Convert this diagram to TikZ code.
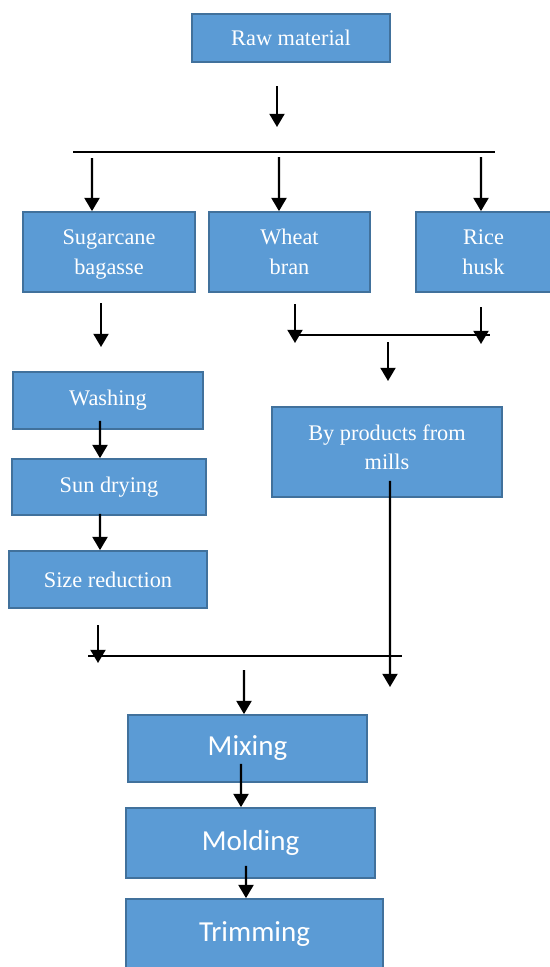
\documentclass[tikz,border=0pt]{standalone}
\usepackage{fontspec}
\setmainfont{Liberation Serif}
\newfontfamily\boxsans{Carlito}
\usetikzlibrary{arrows.meta,positioning}
\definecolor{boxfill}{HTML}{5B9BD5}
\definecolor{boxline}{HTML}{41719C}

\begin{document}
\begin{tikzpicture}[x=0.02cm, y=-0.02cm, flow/.style={-{Triangle[width=8.5pt,length=7.5pt]}, line width=1.25pt}, split/.style={line width=0.75pt}, main node/.style={rectangle,draw=boxline,fill=boxfill,line width=1pt,text=white,align=center,inner sep=0pt,font=\rmfamily\fontsize{12.7}{17}\selectfont}, big node/.style={main node,font=\boxsans\fontsize{16.5}{20}\selectfont}]
\useasboundingbox (0,0) rectangle (550,967);
\clip (0,0) rectangle (550,967);
\begin{scope}
\node[main node, minimum width=3.96cm, minimum height=0.96cm] (raw) at (291,38) {Raw material};
\node[main node, minimum width=3.44cm, minimum height=1.6cm, text depth=-2.8pt] (sugar) at (109,252) {Sugarcane\\bagasse};
\node[main node, minimum width=3.22cm, minimum height=1.6cm, text depth=-2.2pt] (wheat) at (289.5,252) {Wheat\\bran};
\node[main node, minimum width=2.7cm, minimum height=1.6cm, text depth=-2.2pt] (rice) at (483.5,252) {Rice\\husk};
\node[main node, minimum width=3.8cm, minimum height=1.14cm] (wash) at (108,400.5) {Washing};
\node[main node, minimum width=3.88cm, minimum height=1.12cm] (sun) at (109,487) {Sun drying};
\node[main node, minimum width=3.96cm, minimum height=1.14cm] (size) at (108,579.5) {Size reduction};
\node[main node, minimum width=4.6cm, minimum height=1.8cm, text depth=5.6pt] (byp) at (387,452) {By products from\\mills};
\node[big node, minimum width=4.78cm, minimum height=1.34cm] (mix) at (247.5,748.5) {Mixing};
\node[big node, minimum width=4.98cm, minimum height=1.4cm] (mold) at (250.5,843) {Molding};
\node[big node, minimum width=5.14cm, minimum height=1.4cm] (trim) at (254.5,934) {Trimming};
\end{scope}
% free ends
\coordinate (r1) at (277,86);
\coordinate (r2) at (277,127);
\coordinate (s1l) at (73,152);
\coordinate (s1r) at (495,152);
\coordinate (a1) at (92,158);
\coordinate (a2) at (279,157);
\coordinate (a3) at (481,157);
\coordinate (b1) at (101,303);
\coordinate (b2) at (101,347);
\coordinate (c1) at (295,304);
\coordinate (c2) at (295,343);
\coordinate (d1) at (481,307);
\coordinate (d2) at (481,344);
\coordinate (s2l) at (295,335);
\coordinate (s2r) at (490,335);
\coordinate (e1) at (388,342);
\coordinate (e2) at (388,381);
\coordinate (f1) at (98,625);
\coordinate (f2) at (98,663);
\coordinate (s3l) at (88,656);
\coordinate (s3r) at (402,656);
\coordinate (g2) at (390,687);
\coordinate (h1) at (244,670);
\begin{scope}
\draw[flow] (r1) -- (r2);
\draw[split] (s1l) -- (s1r);
\draw[flow] (a1) -- ([xshift=-0.34cm]sugar.north);
\draw[flow] (a2) -- ([xshift=-0.21cm]wheat.north);
\draw[flow] (a3) -- ([xshift=-0.05cm]rice.north);
\draw[flow] (b1) -- (b2);
\draw[flow] (c1) -- (c2);
\draw[flow] (d1) -- (d2);
\draw[split] (s2l) -- (s2r);
\draw[flow] (e1) -- (e2);
\draw[flow] ([xshift=-0.16cm,yshift=0.18cm]wash.south) -- ([xshift=-0.18cm]sun.north);
\draw[flow] ([xshift=-0.18cm,yshift=0.04cm]sun.south) -- ([xshift=-0.16cm]size.north);
\draw[flow] (f1) -- (f2);
\draw[split] (s3l) -- (s3r);
\draw[flow] ([xshift=0.06cm,yshift=0.34cm]byp.south) -- (g2);
\draw[flow] (h1) -- ([xshift=-0.07cm]mix.north);
\draw[flow] ([xshift=-0.13cm,yshift=0.38cm]mix.south) -- ([xshift=-0.19cm]mold.north);
\draw[flow] ([xshift=-0.09cm,yshift=0.26cm]mold.south) -- ([xshift=-0.17cm]trim.north);
\end{scope}
\end{tikzpicture}
\end{document}
